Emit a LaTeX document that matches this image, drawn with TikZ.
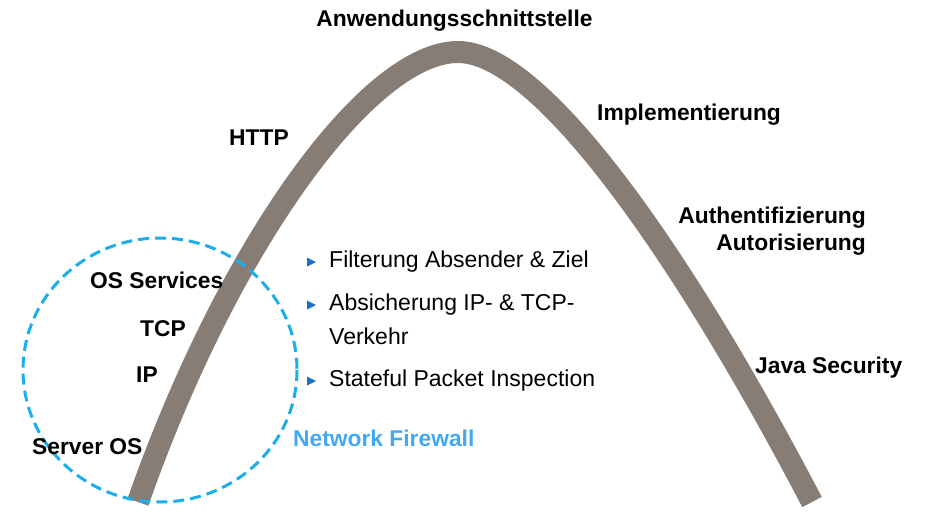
\documentclass[tikz,border=0pt]{standalone}
\usepackage{fontspec}
\setmainfont{Liberation Sans}
\definecolor{bandgray}{HTML}{877D74}
\definecolor{ringblue}{HTML}{1AAEEA}
\definecolor{fwblue}{HTML}{41A8F4}
\definecolor{bulletblue}{HTML}{1C6FC7}
\tikzset{
  lbl/.style={font=\fontsize{22.8}{27}\selectfont\bfseries, inner sep=0pt},
  btxt/.style={font=\fontsize{23}{27}\selectfont, inner sep=0pt, anchor=base west},
  band/.style={draw=bandgray, line width=22pt},
  ring/.style={draw=ringblue, line width=3pt, dash pattern=on 11pt off 6pt},
  tri/.style={fill=bulletblue, draw=none}
}
\begin{document}
\begin{tikzpicture}[x=1pt,y=-1pt]
\useasboundingbox (0,0) rectangle (928,511);
% band
\coordinate (bl) at (138,502);
\coordinate (pk) at (458,52);
\coordinate (br) at (812,502);
\draw[band] (bl) .. controls (230,240) and (370,52) .. (pk)
                 .. controls (540,52) and (680,250) .. (br);
% firewall ring
\draw[ring] (160,370) ellipse [x radius=137, y radius=132];
% labels
\node[lbl, anchor=base] (api) at (454.5,27) {Anwendungsschnittstelle};
\node[lbl, anchor=base west] (http) at (229,145) {HTTP};
\node[lbl, anchor=base west] (impl) at (597,120) {Implementierung};
\node[lbl, anchor=base east] (auth) at (866,223) {Authentifizierung};
\node[lbl, anchor=base east] (autor) at (866,250) {Autorisierung};
\node[lbl, anchor=base west] (java) at (755,373) {Java Security};
\node[lbl, anchor=base west] (oss) at (90,288) {OS Services};
\node[lbl, anchor=base west] (tcp) at (140,336) {TCP};
\node[lbl, anchor=base west] (ip) at (136,382) {IP};
\node[lbl, anchor=base west] (sos) at (32,454) {Server OS};
\node[lbl, anchor=base west, text=fwblue] (fw) at (293,446) {Network Firewall};
% bullets
\node[btxt] (b1) at (329,267) {Filterung Absender \& Ziel};
\node[btxt] (b2) at (329,310) {Absicherung IP- \& TCP-};
\node[btxt] (b2b) at (329,344) {Verkehr};
\node[btxt] (b3) at (329,386) {Stateful Packet Inspection};
\foreach \y [count=\i] in {262,305,381}{
  \fill[tri] (307,\y-4.5) -- (316,\y) -- (307,\y+4.5) -- cycle;
}
\end{tikzpicture}
\end{document}
